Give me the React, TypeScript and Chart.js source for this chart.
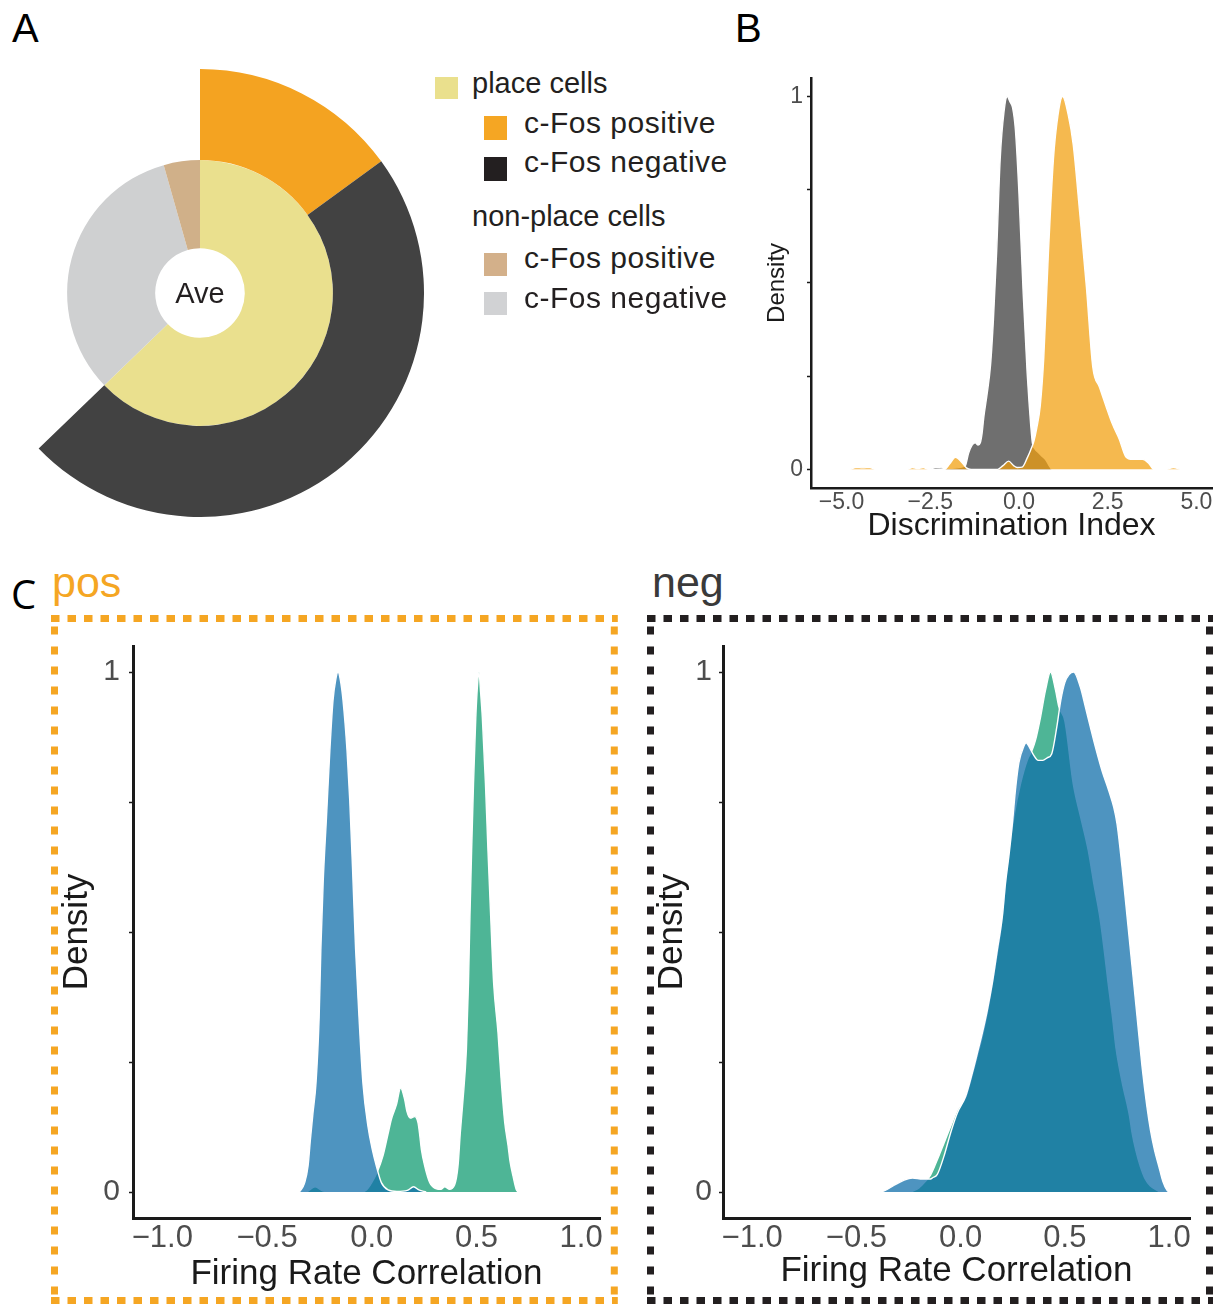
import { useEffect, useRef } from 'react';
import { Chart, registerables } from 'chart.js';
import type { ChartConfiguration, Plugin } from 'chart.js';

Chart.register(...registerables);

const SANS = "'Liberation Sans', Arial, Helvetica, sans-serif";
Chart.defaults.font.family = SANS;

type Pt = [number, number];

/* ---------- A: average share of cells (%) ---------- */
const innerRingLabels = ['place cells', 'non-place cells, c-Fos negative', 'non-place cells, c-Fos positive'];
const innerRingValues = [62.8, 32.8, 4.4];
// outer ring splits the place cells; the non-place share is left open
const outerRingValues = [15.0, 47.8, 37.2];

/* ---------- B: discrimination index densities ---------- */
const discTicks = [-5, -2.5, 0, 2.5, 5];
const densityTicks = [0, 0.25, 0.5, 0.75, 1];

const discFosNegative: Pt[] = [
  [-2.5, 0], [-2.35, 0.005], [-2.2, 0.004], [-2.0, 0.002], [-1.75, 0.004], [-1.55, 0.008],
  [-1.5, 0.012], [-1.42, 0.043], [-1.32, 0.065], [-1.23, 0.071], [-1.15, 0.065], [-1.09, 0.071],
  [-1.04, 0.096], [-0.99, 0.14], [-0.9, 0.2], [-0.8, 0.28], [-0.72, 0.4], [-0.63, 0.58],
  [-0.53, 0.83], [-0.42, 0.96], [-0.33, 1.0], [-0.25, 0.985], [-0.18, 0.97], [-0.1, 0.91],
  [0.0, 0.74], [0.12, 0.47], [0.23, 0.26], [0.28, 0.185], [0.33, 0.12], [0.38, 0.07],
  [0.45, 0.055], [0.57, 0.043], [0.65, 0.035], [0.76, 0.025], [0.85, 0.01], [0.92, 0],
];

const discFosPositive: Pt[] = [
  [-4.75, 0], [-4.6, 0.005], [-4.4, 0.004], [-4.2, 0.005], [-4.05, 0],
  [-3.15, 0], [-3.0, 0.005], [-2.85, 0.002], [-2.7, 0.005], [-2.55, 0],
  [-2.1, 0], [-1.95, 0.015], [-1.79, 0.032], [-1.62, 0.02], [-1.48, 0.004], [-1.35, 0],
  [-0.6, 0], [-0.45, 0.01], [-0.29, 0.022], [-0.15, 0.01], [-0.05, 0.005], [0.09, 0.006],
  [0.23, 0.03], [0.33, 0.052], [0.42, 0.075], [0.5, 0.11], [0.6, 0.17], [0.7, 0.3],
  [0.83, 0.58], [0.97, 0.83], [1.1, 0.95], [1.23, 1.0], [1.39, 0.95], [1.53, 0.87],
  [1.71, 0.69], [1.9, 0.49], [2.08, 0.275], [2.27, 0.22], [2.45, 0.17], [2.64, 0.12],
  [2.83, 0.08], [3.01, 0.034], [3.2, 0.027], [3.48, 0.027], [3.66, 0.016], [3.8, 0],
  [4.15, 0], [4.35, 0.005], [4.55, 0],
];

/* ---------- C: firing-rate correlation densities ---------- */
const corrTicks = [-1, -0.5, 0, 0.5, 1];

const posBlue: Pt[] = [
  [-0.345, 0], [-0.32, 0.018], [-0.304, 0.05], [-0.293, 0.1], [-0.281, 0.15], [-0.266, 0.21],
  [-0.251, 0.337], [-0.243, 0.466], [-0.232, 0.594], [-0.216, 0.721], [-0.2, 0.849],
  [-0.185, 0.945], [-0.172, 0.985], [-0.161, 1.0], [-0.15, 0.985], [-0.137, 0.945],
  [-0.118, 0.849], [-0.105, 0.753], [-0.092, 0.625], [-0.077, 0.466], [-0.061, 0.337],
  [-0.042, 0.209], [-0.018, 0.126], [0.003, 0.081], [0.022, 0.05], [0.046, 0.018],
  [0.078, 0.004], [0.12, 0.001], [0.17, 0.003], [0.2, 0.01], [0.225, 0.004], [0.26, 0],
];

const posGreen: Pt[] = [
  [-0.31, 0], [-0.27, 0.01], [-0.235, 0.002], [-0.2, 0], [-0.05, 0], [-0.025, 0.004],
  [0.0, 0.018], [0.026, 0.038], [0.054, 0.07], [0.078, 0.112], [0.094, 0.14], [0.118, 0.168],
  [0.138, 0.2], [0.157, 0.178], [0.168, 0.155], [0.184, 0.142], [0.205, 0.145], [0.221, 0.133],
  [0.229, 0.11], [0.237, 0.082], [0.253, 0.05], [0.277, 0.018], [0.309, 0.006], [0.33, 0.005],
  [0.349, 0.01], [0.37, 0.005], [0.396, 0.014], [0.412, 0.05], [0.423, 0.114], [0.436, 0.178],
  [0.452, 0.274], [0.462, 0.402], [0.469, 0.53], [0.477, 0.657], [0.486, 0.785], [0.497, 0.913],
  [0.506, 0.98], [0.512, 1.0], [0.52, 0.96], [0.528, 0.913], [0.543, 0.785], [0.555, 0.657],
  [0.568, 0.53], [0.582, 0.402], [0.603, 0.306], [0.619, 0.21], [0.635, 0.134], [0.651, 0.089],
  [0.66, 0.06], [0.675, 0.03], [0.69, 0.005], [0.7, 0],
];

const negBlue: Pt[] = [
  [-0.39, 0], [-0.367, 0.002], [-0.319, 0.013], [-0.271, 0.023], [-0.231, 0.027], [-0.183, 0.025],
  [-0.144, 0.025], [-0.136, 0.027], [-0.112, 0.034], [-0.08, 0.069], [-0.048, 0.114],
  [-0.016, 0.152], [0.024, 0.184], [0.056, 0.229], [0.08, 0.267], [0.104, 0.306], [0.128, 0.35],
  [0.152, 0.402], [0.176, 0.466], [0.2, 0.53], [0.215, 0.594], [0.231, 0.645], [0.247, 0.704],
  [0.263, 0.774], [0.279, 0.825], [0.303, 0.857], [0.314, 0.864], [0.33, 0.855], [0.35, 0.84],
  [0.372, 0.83], [0.394, 0.83], [0.415, 0.835], [0.437, 0.843], [0.461, 0.894], [0.48, 0.945],
  [0.5, 0.98], [0.52, 0.995], [0.542, 1.0], [0.574, 0.971], [0.598, 0.933], [0.622, 0.894],
  [0.646, 0.856], [0.678, 0.81], [0.71, 0.772], [0.734, 0.74], [0.75, 0.708], [0.774, 0.625],
  [0.798, 0.53], [0.822, 0.434], [0.846, 0.337], [0.87, 0.241], [0.893, 0.165], [0.91, 0.12],
  [0.93, 0.08], [0.95, 0.05], [0.97, 0.02], [0.99, 0.003], [1.0, 0],
];

const negGreen: Pt[] = [
  [-0.24, 0], [-0.2, 0.008], [-0.17, 0.02], [-0.144, 0.033], [-0.112, 0.062], [-0.08, 0.094],
  [-0.048, 0.126], [-0.016, 0.158], [0.024, 0.182], [0.056, 0.226], [0.08, 0.262], [0.104, 0.3],
  [0.128, 0.345], [0.152, 0.4], [0.176, 0.46], [0.191, 0.5], [0.207, 0.56], [0.223, 0.625],
  [0.255, 0.721], [0.287, 0.785], [0.319, 0.83], [0.343, 0.85], [0.359, 0.869], [0.383, 0.913],
  [0.407, 0.965], [0.431, 1.0], [0.455, 0.965], [0.471, 0.933], [0.5, 0.905], [0.54, 0.785],
  [0.576, 0.72], [0.612, 0.657], [0.64, 0.59], [0.667, 0.53], [0.69, 0.46], [0.707, 0.402],
  [0.727, 0.34], [0.746, 0.274], [0.775, 0.21], [0.81, 0.146], [0.822, 0.114], [0.84, 0.08],
  [0.861, 0.05], [0.885, 0.025], [0.909, 0.012], [0.955, 0],
];

/* ---------- colours ---------- */
const ORANGE = '#F4A321';
const DARK = '#424242';
const YELLOW = '#EAE08E';
const LIGHT_GREY = '#CFD0D1';
const TAN = '#D0B089';
const AXIS = '#1a1a1a';
const TICK = '#4d4d4d';
const TITLE = '#1a1a1a';
const FILL_GREY = 'rgba(56,56,56,0.72)';
const FILL_ORANGE = 'rgba(241,158,11,0.72)';
const FILL_BLUE = 'rgba(16,110,170,0.74)';
const FILL_GREEN = 'rgba(16,155,113,0.74)';

const signed = (v: number) => (v < 0 ? '\u2212' : '') + Math.abs(v).toFixed(1);

/* ---------- chart builders ---------- */
function compositionConfig(): ChartConfiguration<'doughnut'> {
  return {
    type: 'doughnut',
    data: {
      labels: innerRingLabels,
      datasets: [
        {
          data: outerRingValues,
          backgroundColor: [ORANGE, DARK, 'rgba(0,0,0,0)'],
          borderWidth: 0,
          hoverBorderWidth: 0,
          hoverOffset: 0,
          weight: 91,
        },
        {
          data: innerRingValues,
          backgroundColor: [YELLOW, LIGHT_GREY, TAN],
          borderWidth: 0,
          hoverBorderWidth: 0,
          hoverOffset: 0,
          weight: 88,
        },
      ],
    },
    options: {
      responsive: false,
      animation: false,
      events: [],
      cutout: '20%',
      layout: { padding: 0 },
      plugins: { legend: { display: false }, tooltip: { enabled: false } },
    },
  };
}

interface AxisLayout {
  xMin: number; xMax: number; xTicks: number[]; xTitle: string;
  yAxisWidth: number; xAxisHeight: number; padTop: number; padRight: number;
  xTickSize: number; yTickSize: number; xTitleSize: number; yTitleSize: number;
  xTickPad: number; yTickPad: number; xTitlePad: number; yTitlePad: number;
  axisWidth: number; tickLength: number;
}

interface Series { label: string; points: Pt[]; fill: string; order: number }

function densityConfig(series: Series[], a: AxisLayout, extra: Plugin<'line'>[] = []): ChartConfiguration<'line'> {
  return {
    type: 'line',
    data: {
      datasets: series.map((s) => ({
        label: s.label,
        data: s.points.map(([x, y]) => ({ x, y })),
        fill: 'origin',
        backgroundColor: s.fill,
        borderColor: '#ffffff',
        borderWidth: 1.4,
        pointRadius: 0,
        cubicInterpolationMode: 'monotone' as const,
        order: s.order,
      })),
    },
    options: {
      responsive: false,
      animation: false,
      events: [],
      layout: { padding: { top: a.padTop, right: a.padRight, left: 0, bottom: 0 } },
      plugins: { legend: { display: false }, tooltip: { enabled: false } },
      scales: {
        x: {
          type: 'linear',
          min: a.xMin,
          max: a.xMax,
          afterFit: (s) => { s.height = a.xAxisHeight; },
          afterBuildTicks: (s) => { s.ticks = a.xTicks.map((value) => ({ value })); },
          grid: { display: false, drawTicks: false },
          border: { display: true, color: AXIS, width: a.axisWidth },
          ticks: {
            autoSkip: false,
            maxRotation: 0,
            padding: a.xTickPad,
            color: TICK,
            font: { size: a.xTickSize },
            callback: (v) => signed(Number(v)),
          },
          title: {
            display: true,
            text: a.xTitle,
            color: TITLE,
            font: { size: a.xTitleSize },
            padding: { top: 0, bottom: a.xTitlePad },
          },
        },
        y: {
          type: 'linear',
          min: -0.05,
          max: 1.05,
          afterFit: (s) => { s.width = a.yAxisWidth; },
          afterBuildTicks: (s) => { s.ticks = densityTicks.map((value) => ({ value })); },
          grid: {
            display: true,
            drawOnChartArea: false,
            drawTicks: true,
            tickLength: a.tickLength,
            tickColor: AXIS,
            tickWidth: 1.5,
          },
          border: { display: true, color: AXIS, width: a.axisWidth },
          ticks: {
            padding: a.yTickPad,
            color: TICK,
            font: { size: a.yTickSize },
            callback: (v) => (Number(v) === 0 || Number(v) === 1 ? String(v) : ''),
          },
          title: {
            display: true,
            text: 'Density',
            color: TITLE,
            font: { size: a.yTitleSize },
            padding: { top: a.yTitlePad, bottom: 0 },
          },
        },
      },
    },
    plugins: extra,
  };
}

// dotted frame drawn around a whole panel, in canvas pixels
function dashedFrame(color: string, l: number, t: number, r: number, b: number): Plugin<'line'> {
  return {
    id: 'dashedFrame',
    afterDraw(chart) {
      const ctx = chart.ctx;
      const seg = (x1: number, y1: number, x2: number, y2: number) => {
        ctx.beginPath();
        ctx.moveTo(x1, y1);
        ctx.lineTo(x2, y2);
        ctx.stroke();
      };
      ctx.save();
      ctx.strokeStyle = color;
      ctx.lineWidth = 7;
      ctx.lineCap = 'butt';
      ctx.setLineDash([8.5, 8]);
      seg(l - 3.5, t, r + 3.5, t);
      seg(l - 3.5, b, r + 3.5, b);
      ctx.setLineDash([8, 12]);
      seg(l, t + 8, l, b);
      seg(r, t + 8, r, b);
      ctx.restore();
    },
  };
}

const discLayout: AxisLayout = {
  xMin: -5.86, xMax: 5.44, xTicks: discTicks, xTitle: 'Discrimination Index',
  yAxisWidth: 51, xAxisHeight: 62, padTop: 15, padRight: 9,
  xTickSize: 23, yTickSize: 23, xTitleSize: 32, yTitleSize: 24,
  xTickPad: 1, yTickPad: 4, xTitlePad: 5, yTitlePad: 3,
  axisWidth: 2.5, tickLength: 4,
};

const corrBase = {
  xTicks: corrTicks, xTitle: 'Firing Rate Correlation',
  yAxisWidth: 83, xAxisHeight: 87, padTop: 34,
  xTickSize: 31, yTickSize: 30, xTitleSize: 35, yTitleSize: 35,
  xTickPad: 2, axisWidth: 3, tickLength: 4,
};

const posLayout: AxisLayout = {
  ...corrBase, xMin: -1.14, xMax: 1.09, padRight: 20, yTickPad: 9, xTitlePad: 10, yTitlePad: 6,
};

const negLayout: AxisLayout = {
  ...corrBase, xMin: -1.14, xMax: 1.1, padRight: 31, yTickPad: 7, xTitlePad: 13, yTitlePad: 11,
};

/* ---------- components ---------- */
function ChartCanvas(props: {
  left: number; top: number; width: number; height: number;
  build: () => ChartConfiguration<any>;
}) {
  const ref = useRef<HTMLCanvasElement>(null);
  useEffect(() => {
    const chart = new Chart(ref.current as HTMLCanvasElement, props.build());
    return () => chart.destroy();
  }, []);
  const { left, top, width, height } = props;
  return (
    <canvas
      ref={ref}
      width={width}
      height={height}
      style={{ position: 'absolute', left, top, width, height }}
    />
  );
}

function Text(props: {
  x: number; baseline: number; size: number; color?: string; family?: string;
  ascent?: number; spacing?: number; children: string;
}) {
  const ascent = props.ascent ?? 0.8465;
  return (
    <div
      style={{
        position: 'absolute',
        left: props.x,
        top: props.baseline - props.size * ascent,
        fontSize: props.size,
        lineHeight: `${props.size}px`,
        color: props.color ?? '#231f20',
        fontFamily: props.family ?? SANS,
        letterSpacing: props.spacing ?? 0,
        whiteSpace: 'nowrap',
      }}
    >
      {props.children}
    </div>
  );
}

function Swatch(props: { x: number; y: number; w: number; h: number; color: string }) {
  return (
    <div
      style={{
        position: 'absolute', left: props.x, top: props.y,
        width: props.w, height: props.h, background: props.color,
      }}
    />
  );
}

export default function App() {
  return (
    <div
      style={{
        position: 'absolute', left: 0, top: 0, width: 1221, height: 1305,
        overflow: 'hidden', background: '#ffffff', fontFamily: SANS,
      }}
    >
      {/* A */}
      <Text x={12} baseline={42} size={40} color="#000">A</Text>
      <ChartCanvas left={-24} top={69} width={448} height={448} build={compositionConfig} />
      <div
        style={{
          position: 'absolute', left: 150, width: 100, top: 303.4 - 29 * 0.8465,
          textAlign: 'center', fontSize: 29, lineHeight: '29px', color: '#231f20',
        }}
      >
        Ave
      </div>

      <Swatch x={435} y={77} w={23} h={22} color="#EAE08D" />
      <Text x={472} baseline={93.3} size={29}>place cells</Text>
      <Swatch x={484} y={116} w={23} h={24} color="#F5A623" />
      <Text x={524} baseline={133.3} size={30} spacing={0.5}>c-Fos positive</Text>
      <Swatch x={484} y={157} w={23} h={24} color="#231F20" />
      <Text x={524} baseline={172.7} size={30} spacing={0.5}>c-Fos negative</Text>
      <Text x={472} baseline={226.7} size={29}>non-place cells</Text>
      <Swatch x={484} y={253} w={23} h={23} color="#D3B08A" />
      <Text x={524} baseline={268.3} size={30} spacing={0.5}>c-Fos positive</Text>
      <Swatch x={484} y={292} w={23} h={23} color="#D1D2D4" />
      <Text x={524} baseline={308.3} size={30} spacing={0.5}>c-Fos negative</Text>

      {/* B */}
      <Text x={735} baseline={42} size={40} color="#000">B</Text>
      <ChartCanvas
        left={760} top={60} width={461} height={490}
        build={() =>
          densityConfig(
            [
              { label: 'c-Fos negative', points: discFosNegative, fill: FILL_GREY, order: 2 },
              { label: 'c-Fos positive', points: discFosPositive, fill: FILL_ORANGE, order: 1 },
            ],
            discLayout,
          )
        }
      />

      {/* C */}
      <Text x={11} baseline={610} size={40} color="#000" family="'Open Sans', sans-serif" ascent={0.888}>C</Text>
      <Text x={52} baseline={597} size={43} color="#F5A623">pos</Text>
      <Text x={652} baseline={597} size={43} color="#3a3a3a">neg</Text>
      <ChartCanvas
        left={50} top={612} width={570} height={693}
        build={() =>
          densityConfig(
            [
              { label: 'green', points: posGreen, fill: FILL_GREEN, order: 2 },
              { label: 'blue', points: posBlue, fill: FILL_BLUE, order: 1 },
            ],
            posLayout,
            [dashedFrame('#F5A623', 4.5, 6.5, 564.3, 688.5)],
          )
        }
      />
      <ChartCanvas
        left={640} top={612} width={581} height={693}
        build={() =>
          densityConfig(
            [
              { label: 'green', points: negGreen, fill: FILL_GREEN, order: 2 },
              { label: 'blue', points: negBlue, fill: FILL_BLUE, order: 1 },
            ],
            negLayout,
            [dashedFrame('#231F20', 10.5, 6.5, 569.5, 688.5)],
          )
        }
      />
    </div>
  );
}
